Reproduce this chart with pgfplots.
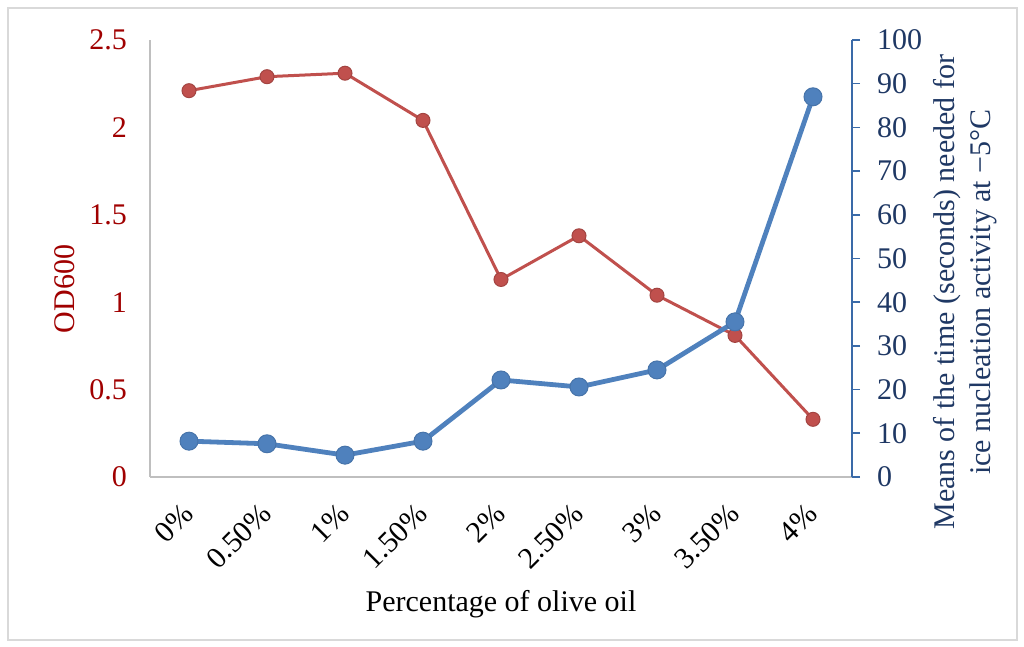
\documentclass[border=0pt]{standalone}
\usepackage{fontspec}
\setmainfont{Liberation Serif}
\usepackage{pgfplots}
\pgfplotsset{compat=1.18}
\definecolor{redline}{HTML}{C0504D}
\definecolor{redtext}{HTML}{A00000}
\definecolor{blueline}{HTML}{4F81BD}
\definecolor{bluetext}{HTML}{1F3864}
\definecolor{blueaxis}{HTML}{3A6AA8}
\definecolor{greyaxis}{HTML}{BFBFBF}
\begin{document}
\begin{tikzpicture}[x=1pt,y=1pt]
\path[use as bounding box] (0,0) rectangle (512,323.5);
\draw[black!15, line width=1pt] (4,3.5) rectangle (508.5,319.5);
\begin{axis}[
  at={(75pt,85pt)}, anchor=south west,
  scale only axis, width=351pt, height=218.5pt,
  xmin=-0.5, xmax=8.5, ymin=0, ymax=2.5,
  /pgf/number format/assume math mode=true,
  axis x line*=bottom, axis y line*=left,
  axis line style={greyaxis, line width=0.8pt},
  x axis line style={-}, y axis line style={-},
  xtick=data,
  xticklabels={0\%,0.50\%,1\%,1.50\%,2\%,2.50\%,3\%,3.50\%,4\%},
  ytick={0,0.5,1,1.5,2,2.5},
  yticklabels={0,0.5,1,1.5,2,2.5},
  major tick length=0pt,
  font=\fontsize{15}{18}\selectfont,
  yticklabel style={text=redtext, xshift=-8pt},
  xticklabel style={rotate=45, anchor=east, yshift=-11pt, xshift=-8pt},
  xlabel={Percentage of olive oil},
  xlabel style={at={(axis description cs:0.5,-0.29)}, anchor=center},
  ylabel={OD600},
  ylabel style={text=redtext, at={(axis description cs:-0.121,0.43)}, anchor=center, rotate=0},
  clip=false,
]
\addplot[redline, line width=1.5pt, mark=*, mark size=3.5pt, mark options={fill=redline, draw=redline!85!black, line width=0.5pt}]
coordinates {(0,2.21) (1,2.29) (2,2.31) (3,2.04) (4,1.13) (5,1.38) (6,1.04) (7,0.81) (8,0.33)};
\end{axis}
\begin{axis}[
  at={(75pt,85pt)}, anchor=south west,
  scale only axis, width=351pt, height=218.5pt,
  xmin=-0.5, xmax=8.5, ymin=0, ymax=100,
  /pgf/number format/assume math mode=true,
  axis y line*=right, axis x line=none,
  y axis line style={blueaxis, line width=0.8pt, -},
  ytick={0,10,...,100},
  major tick length=4pt, tick align=outside,
  tick style={blueaxis, line width=0.8pt},
  font=\fontsize{15}{18}\selectfont,
  yticklabel style={text=bluetext, xshift=5pt},
  ylabel={Means of the time (seconds) needed for\\ice nucleation activity at −5°C},
  ylabel style={text=bluetext, at={(axis description cs:1.161,0.423)}, anchor=center, rotate=0, align=center},
  clip=false,
]
\addplot[blueline, line width=2.4pt, mark=*, mark size=4.5pt, mark options={fill=blueline, draw=blueline!90!black, line width=0.5pt}]
coordinates {(0,8.2) (1,7.6) (2,5.0) (3,8.2) (4,22.2) (5,20.6) (6,24.5) (7,35.5) (8,87.0)};
\end{axis}
\end{tikzpicture}
\end{document}
